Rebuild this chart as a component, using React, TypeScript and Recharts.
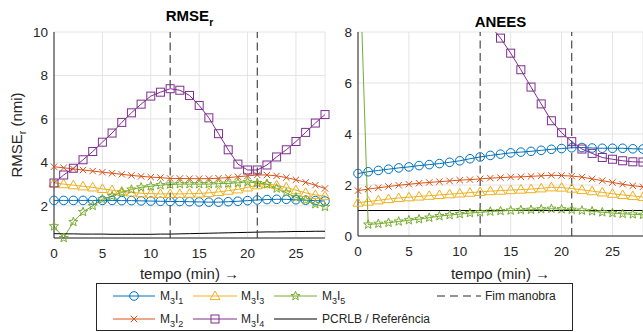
import React from 'react';
import { LineChart, Line, XAxis, YAxis, CartesianGrid, ReferenceLine } from 'recharts';

const minutes = [0, 1, 2, 3, 4, 5, 6, 7, 8, 9, 10, 11, 12, 13, 14, 15, 16, 17, 18, 19, 20, 21, 22, 23, 24, 25, 26, 27, 28];

// RMSE_r (nmi)
const rmseM3I1 = [2.25, 2.25, 2.25, 2.25, 2.25, 2.25, 2.25, 2.24, 2.24, 2.23, 2.22, 2.21, 2.2, 2.2, 2.19, 2.18, 2.17, 2.17, 2.19, 2.21, 2.24, 2.27, 2.29, 2.3, 2.3, 2.28, 2.26, 2.24, 2.22];
const rmseM3I2 = [3.8, 3.75, 3.7, 3.65, 3.6, 3.55, 3.5, 3.45, 3.4, 3.36, 3.32, 3.3, 3.26, 3.26, 3.25, 3.25, 3.25, 3.27, 3.3, 3.34, 3.38, 3.42, 3.42, 3.38, 3.3, 3.2, 3.08, 2.95, 2.8];
const rmseM3I3 = [3.05, 3.0, 2.95, 2.9, 2.85, 2.78, 2.72, 2.66, 2.62, 2.58, 2.56, 2.55, 2.55, 2.55, 2.56, 2.57, 2.6, 2.64, 2.7, 2.76, 2.85, 2.95, 3.0, 2.95, 2.85, 2.72, 2.6, 2.5, 2.45];
const rmseM3I4 = [3.05, 3.42, 3.73, 4.12, 4.5, 4.93, 5.35, 5.84, 6.28, 6.68, 7.05, 7.23, 7.39, 7.32, 7.08, 6.62, 6.05, 5.32, 4.58, 3.92, 3.65, 3.65, 3.88, 4.25, 4.58, 4.96, 5.38, 5.81, 6.2];
const rmseM3I5 = [1.06, 0.52, 1.26, 1.72, 2.0, 2.3, 2.45, 2.62, 2.75, 2.85, 2.9, 2.95, 2.98, 3.0, 3.0, 3.0, 3.0, 3.02, 3.03, 3.06, 3.1, 3.05, 3.0, 2.8, 2.6, 2.39, 2.26, 2.08, 1.95];
const rmsePcrlb = [0.72, 0.71, 0.71, 0.7, 0.7, 0.7, 0.69, 0.69, 0.69, 0.69, 0.69, 0.7, 0.7, 0.71, 0.72, 0.73, 0.74, 0.75, 0.76, 0.77, 0.78, 0.79, 0.8, 0.8, 0.81, 0.82, 0.82, 0.83, 0.83];

// ANEES
const aneesM3I1 = [2.45, 2.52, 2.57, 2.62, 2.67, 2.71, 2.76, 2.8, 2.84, 2.89, 2.95, 3.03, 3.1, 3.16, 3.21, 3.26, 3.29, 3.32, 3.36, 3.4, 3.43, 3.46, 3.47, 3.45, 3.44, 3.44, 3.44, 3.42, 3.41];
const aneesM3I2 = [1.78, 1.84, 1.89, 1.94, 1.99, 2.03, 2.07, 2.1, 2.13, 2.16, 2.19, 2.21, 2.24, 2.27, 2.29, 2.31, 2.32, 2.34, 2.36, 2.38, 2.37, 2.35, 2.31, 2.24, 2.17, 2.1, 2.03, 1.97, 1.93];
const aneesM3I3 = [1.31, 1.35, 1.4, 1.45, 1.49, 1.52, 1.55, 1.58, 1.61, 1.64, 1.67, 1.7, 1.73, 1.76, 1.78, 1.8, 1.82, 1.84, 1.87, 1.91, 1.9, 1.86, 1.81, 1.76, 1.71, 1.66, 1.61, 1.57, 1.53];
const aneesM3I4 = [null, null, null, null, null, null, null, null, null, null, null, null, null, 8.25, 7.76, 7.17, 6.52, 5.84, 5.18, 4.52, 4.05, 3.7, 3.41, 3.24, 3.08, 3.01, 2.95, 2.91, 2.9];
const aneesM3I5 = [12.8, 0.45, 0.48, 0.52, 0.57, 0.62, 0.66, 0.72, 0.78, 0.82, 0.86, 0.9, 0.93, 0.96, 0.98, 1.0, 1.02, 1.03, 1.05, 1.07, 1.05, 1.03, 1.0, 0.97, 0.93, 0.9, 0.87, 0.85, 0.83];
const aneesReference = 1;

const maneuverEnds = [12, 21];
const xTicks = [0, 5, 10, 15, 20, 25];
const rmseTicks = [2, 4, 6, 8, 10];
const aneesTicks = [0, 2, 4, 6, 8];

const FONT = '"Liberation Sans", Arial, Helvetica, sans-serif';
const AXIS = '#262626';
const GRID = '#e4e4e4';

type Shape = 'circle' | 'x' | 'triangle' | 'square' | 'star';

const series: { key: string; shape: Shape; color: string; sub: string }[] = [
  { key: 'm1', shape: 'circle', color: '#0072BD', sub: '1' },
  { key: 'm2', shape: 'x', color: '#D95319', sub: '2' },
  { key: 'm3', shape: 'triangle', color: '#EDB120', sub: '3' },
  { key: 'm4', shape: 'square', color: '#7E2F8E', sub: '4' },
  { key: 'm5', shape: 'star', color: '#77AC30', sub: '5' },
];

const rmseData = minutes.map((t, i) => ({
  t,
  m1: rmseM3I1[i],
  m2: rmseM3I2[i],
  m3: rmseM3I3[i],
  m4: rmseM3I4[i],
  m5: rmseM3I5[i],
  ref: rmsePcrlb[i],
}));

const aneesData = minutes.map((t, i) => ({
  t,
  m1: aneesM3I1[i],
  m2: aneesM3I2[i],
  m3: aneesM3I3[i],
  m4: aneesM3I4[i],
  m5: aneesM3I5[i],
}));

function starPoints(cx: number, cy: number, R: number, r: number) {
  const pts: string[] = [];
  for (let i = 0; i < 10; i++) {
    const a = (-90 + i * 36) * (Math.PI / 180);
    const rad = i % 2 === 0 ? R : r;
    pts.push(`${(cx + rad * Math.cos(a)).toFixed(2)},${(cy + rad * Math.sin(a)).toFixed(2)}`);
  }
  return pts.join(' ');
}

function Marker({ shape, cx, cy, color }: { shape: Shape; cx: number; cy: number; color: string }) {
  const common = { stroke: color, strokeWidth: 1, fill: 'none' };
  switch (shape) {
    case 'circle':
      return <circle cx={cx} cy={cy} r={4.3} {...common} />;
    case 'x':
      return (
        <g {...common}>
          <line x1={cx - 3.2} y1={cy - 3.2} x2={cx + 3.2} y2={cy + 3.2} />
          <line x1={cx - 3.2} y1={cy + 3.2} x2={cx + 3.2} y2={cy - 3.2} />
        </g>
      );
    case 'triangle':
      return <polygon points={`${cx},${cy - 5} ${cx - 5},${cy + 3.6} ${cx + 5},${cy + 3.6}`} {...common} />;
    case 'square':
      return <rect x={cx - 4} y={cy - 4} width={8} height={8} {...common} />;
    case 'star':
      return <polygon points={starPoints(cx, cy, 4.8, 2.0)} {...common} />;
  }
  return null;
}

function makeDot(shape: Shape, color: string, tag: string) {
  return (props: any) => {
    const { cx, cy, index, value } = props;
    const k = `${tag}-${shape}-${index}`;
    if (value == null || !Number.isFinite(cx) || !Number.isFinite(cy)) return <g key={k} />;
    return (
      <g key={k}>
        <Marker shape={shape} cx={cx} cy={cy} color={color} />
      </g>
    );
  };
}

const tickStyle = { fontFamily: FONT, fontSize: 13.5, fill: AXIS };

function Sub({ children, dy = 4, size = 10 }: { children: React.ReactNode; dy?: number; size?: number }) {
  return (
    <tspan dy={dy} fontSize={size}>
      {children}
    </tspan>
  );
}

function MLabel({ x, y, sub }: { x: number; y: number; sub: string }) {
  return (
    <text x={x} y={y} fontFamily={FONT} fontSize={12} fill={AXIS}>
      M<tspan dy={3.5} fontSize={9}>3</tspan>
      <tspan dy={-3.5}>I</tspan>
      <tspan dy={3.5} fontSize={9}>{sub}</tspan>
    </text>
  );
}

function Legend() {
  const rows = [296, 319];
  const cols = [
    { x1: 113, x2: 155, tx: 160 },
    { x1: 193, x2: 237, tx: 241 },
    { x1: 274, x2: 317, tx: 322 },
  ];
  const entries: { col: number; row: number; s?: (typeof series)[number]; kind: 'series' | 'ref' }[] = [
    { col: 0, row: 0, s: series[0], kind: 'series' },
    { col: 1, row: 0, s: series[2], kind: 'series' },
    { col: 2, row: 0, s: series[4], kind: 'series' },
    { col: 0, row: 1, s: series[1], kind: 'series' },
    { col: 1, row: 1, s: series[3], kind: 'series' },
    { col: 2, row: 1, kind: 'ref' },
  ];
  return (
    <g>
      <rect x={96.5} y={283.5} width={476} height={47} fill="#fff" stroke={AXIS} strokeWidth={1} />
      {entries.map((e, i) => {
        const c = cols[e.col];
        const y = rows[e.row];
        if (e.kind === 'ref') {
          return (
            <g key={i}>
              <line x1={c.x1} y1={y} x2={c.x2} y2={y} stroke="#000" strokeWidth={1} />
              <text x={c.tx} y={y + 4.3} fontFamily={FONT} fontSize={12} fill={AXIS}>
                PCRLB / Referência
              </text>
            </g>
          );
        }
        const s = e.s!;
        return (
          <g key={i}>
            <line x1={c.x1} y1={y} x2={c.x2} y2={y} stroke={s.color} strokeWidth={1} />
            <Marker shape={s.shape} cx={(c.x1 + c.x2) / 2} cy={y} color={s.color} />
            <MLabel x={c.tx} y={y + 4.3} sub={s.sub} />
          </g>
        );
      })}
      <line x1={437} y1={296} x2={481} y2={296} stroke={AXIS} strokeWidth={1} strokeDasharray="8 5" />
      <text x={485} y={300.3} fontFamily={FONT} fontSize={12} fill={AXIS}>
        Fim manobra
      </text>
    </g>
  );
}

function SeriesLines({ tag, yAxisId }: { tag: string; yAxisId?: string }) {
  return null;
}

export default function App() {
  return (
    <div style={{ position: 'absolute', left: 0, top: 0, width: 643, height: 332, background: '#fff', overflow: 'hidden' }}>
      <div style={{ position: 'absolute', left: 0, top: 0 }}>
        <LineChart width={330} height={280} data={rmseData} margin={{ top: 32, right: 5, bottom: 0, left: 0 }}>
          <CartesianGrid stroke={GRID} strokeWidth={1} />
          <XAxis
            type="number"
            dataKey="t"
            domain={[0, 28]}
            ticks={xTicks}
            interval={0}
            height={42}
            axisLine={{ stroke: AXIS }}
            tickLine={false}
            tickSize={0}
            tickMargin={10}
            tick={tickStyle}
          />
          <YAxis
            type="number"
            domain={[0.52, 10]}
            ticks={rmseTicks}
            interval={0}
            width={54}
            axisLine={{ stroke: AXIS }}
            tickLine={false}
            tickSize={0}
            tickMargin={6}
            tick={tickStyle}
          />
          {series.map((s) => (
            <Line
              key={s.key}
              type="linear"
              dataKey={s.key}
              stroke={s.color}
              strokeWidth={1}
              dot={makeDot(s.shape, s.color, 'rmse')}
              activeDot={false}
              isAnimationActive={false}
            />
          ))}
          <Line type="linear" dataKey="ref" stroke="#000" strokeWidth={1} dot={false} activeDot={false} isAnimationActive={false} />
          {maneuverEnds.map((x) => (
            <ReferenceLine key={x} x={x} stroke={AXIS} strokeWidth={1} strokeDasharray="8 4.5" />
          ))}
        </LineChart>
      </div>
      <div style={{ position: 'absolute', left: 320, top: 0 }}>
        <LineChart width={323} height={280} data={aneesData} margin={{ top: 32, right: 0, bottom: 0, left: 0 }}>
          <CartesianGrid stroke={GRID} strokeWidth={1} />
          <XAxis
            type="number"
            dataKey="t"
            domain={[0, 28]}
            ticks={xTicks}
            interval={0}
            height={44}
            axisLine={{ stroke: AXIS }}
            tickLine={false}
            tickSize={0}
            tickMargin={10}
            tick={tickStyle}
          />
          <YAxis
            type="number"
            domain={[0, 8]}
            ticks={aneesTicks}
            interval={0}
            width={38}
            axisLine={{ stroke: AXIS }}
            tickLine={false}
            tickSize={0}
            tickMargin={6}
            tick={tickStyle}
          />
          <YAxis yAxisId="clip" type="number" domain={[0, 8]} allowDataOverflow hide />
          <ReferenceLine y={aneesReference} stroke="#000" strokeWidth={1} />
          {series.map((s) => (
            <Line
              key={s.key}
              type="linear"
              dataKey={s.key}
              yAxisId={s.key === 'm4' || s.key === 'm5' ? 'clip' : 0}
              stroke={s.color}
              strokeWidth={1}
              dot={makeDot(s.shape, s.color, 'anees')}
              activeDot={false}
              isAnimationActive={false}
            />
          ))}
          {maneuverEnds.map((x) => (
            <ReferenceLine key={x} x={x} stroke={AXIS} strokeWidth={1} strokeDasharray="8 4.5" />
          ))}
        </LineChart>
      </div>
      <svg width={643} height={332} style={{ position: 'absolute', left: 0, top: 0, pointerEvents: 'none' }}>
        <text x={189.5} y={21} textAnchor="middle" fontFamily={FONT} fontSize={15} fontWeight="bold" fill="#000">
          RMSE<Sub dy={5} size={10.5}>r</Sub>
        </text>
        <text x={500.5} y={26.5} textAnchor="middle" fontFamily={FONT} fontSize={15} fontWeight="bold" fill="#000">
          ANEES
        </text>
        <text x={189.5} y={278.5} textAnchor="middle" fontFamily={FONT} fontSize={15} fill={AXIS}>
          tempo (min) →
        </text>
        <text x={500.5} y={278.5} textAnchor="middle" fontFamily={FONT} fontSize={15} fill={AXIS}>
          tempo (min) →
        </text>
        <text
          transform="translate(21.5,135) rotate(-90)"
          x={0}
          y={0}
          textAnchor="middle"
          fontFamily={FONT}
          fontSize={15}
          fill={AXIS}
        >
          RMSE<Sub dy={4.5} size={10.5}>r</Sub>
          <tspan dy={-4.5}> (nmi)</tspan>
        </text>
        <Legend />
      </svg>
    </div>
  );
}
